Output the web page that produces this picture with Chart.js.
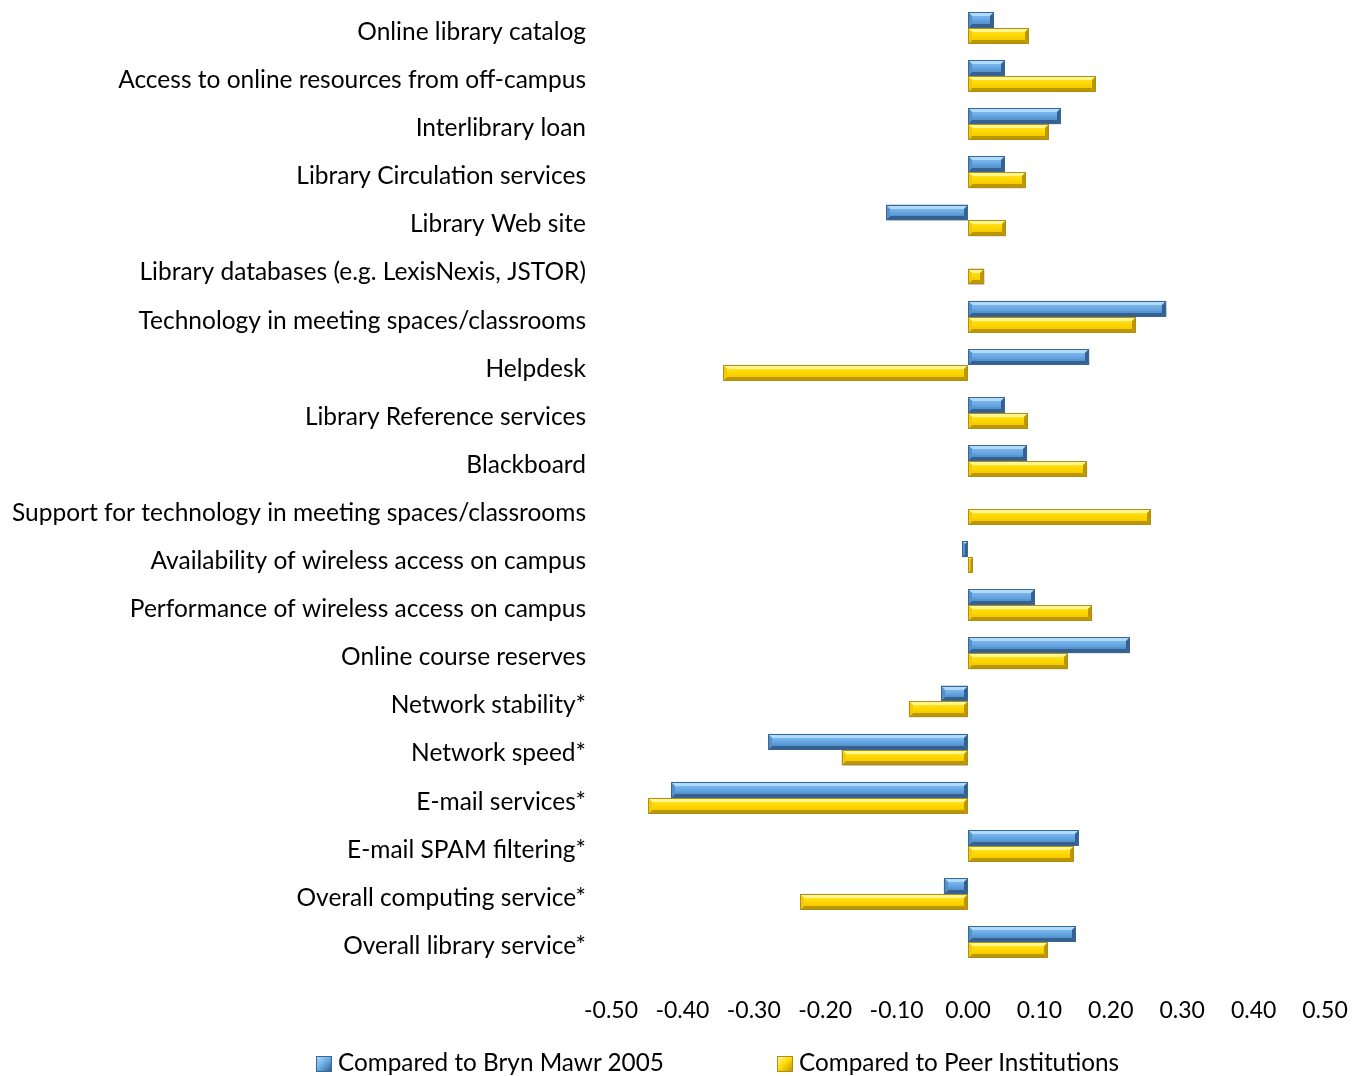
<!DOCTYPE html>
<html>
<head>
<meta charset="utf-8">
<script src="https://cdn.jsdelivr.net/npm/chart.js@4.4.1/dist/chart.umd.min.js"></script>
<style>
  html, body { margin: 0; padding: 0; background: #fff; }
  #wrap { position: relative; width: 1367px; height: 1076px; }
  #legend { position: absolute; left: 0; top: 1048px; width: 1367px; height: 28px; font: 24.3px Lato, sans-serif; color: #000; }
  .leg-item { position: absolute; top: 0; white-space: nowrap; line-height: 28px; }
  .leg-box { display: inline-block; width: 16px; height: 16px; margin-right: 6px; vertical-align: -1px; box-sizing: border-box; }
</style>
</head>
<body>
<div id="wrap">
  <canvas id="chart" width="1367" height="1076"></canvas>
  <div id="legend"></div>
</div>
<script>
// categories, top to bottom
const categories = [
  'Online library catalog',
  'Access to online resources from off-campus',
  'Interlibrary loan',
  'Library Circulation services',
  'Library Web site',
  'Library databases (e.g. LexisNexis, JSTOR)',
  'Technology in meeting spaces/classrooms',
  'Helpdesk',
  'Library Reference services',
  'Blackboard',
  'Support for technology in meeting spaces/classrooms',
  'Availability of wireless access on campus',
  'Performance of wireless access on campus',
  'Online course reserves',
  'Network stability*',
  'Network speed*',
  'E-mail services*',
  'E-mail SPAM filtering*',
  'Overall computing service*',
  'Overall library service*'
];

const seriesNames = ['Compared to Bryn Mawr 2005', 'Compared to Peer Institutions'];

const vsBrynMawr2005 = [0.036, 0.052, 0.130, 0.052, -0.115, null, 0.278, 0.170, 0.052, 0.083,
  null, -0.008, 0.094, 0.227, -0.038, -0.280, -0.416, 0.155, -0.034, 0.151];

const vsPeers = [0.085, 0.179, 0.113, 0.081, 0.053, 0.023, 0.235, -0.343, 0.084, 0.167,
  0.256, 0.007, 0.174, 0.140, -0.083, -0.177, -0.448, 0.148, -0.235, 0.112];

const xTicks = [-0.5, -0.4, -0.3, -0.2, -0.1, 0, 0.1, 0.2, 0.3, 0.4, 0.5];

const FONT = 'Lato, sans-serif';

// bevel shading for each series
const shades = [
  { base: '#4F86C6', top: '#8CC4F3', mid: '#6AAAE6', bot: '#4179B4', hi: '#B0DAFA', lo: '#34618F', side: '#5590CB', edge: '#3A6894' },
  { base: '#F7CD00', top: '#FFEC4C', mid: '#FFD800', bot: '#EDBF00', hi: '#FFF690', lo: '#BC9700', side: '#F3CB00', edge: '#AD8E18' }
];

function poly(ctx, pts, color) {
  ctx.beginPath();
  ctx.moveTo(pts[0][0], pts[0][1]);
  for (let i = 1; i < pts.length; i++) ctx.lineTo(pts[i][0], pts[i][1]);
  ctx.closePath();
  ctx.fillStyle = color;
  ctx.fill();
}

// drop shadow under bars, then Excel-like bevel on top of each bar
const bevelPlugin = {
  id: 'bevel',
  beforeDatasetsDraw(chart) {
    const ctx = chart.ctx;
    ctx.save();
    ctx.shadowColor = 'rgba(0,0,0,0.3)';
    ctx.shadowBlur = 6;
    ctx.shadowOffsetX = 1;
    ctx.shadowOffsetY = 5;
  },
  afterDatasetsDraw(chart) {
    const ctx = chart.ctx;
    ctx.restore();
    chart.data.datasets.forEach(function(ds, di) {
      const sh = shades[di];
      chart.getDatasetMeta(di).data.forEach(function(bar, i) {
        if (ds.data[i] == null) return;
        const p = bar.getProps(['x', 'y', 'base', 'height'], true);
        const l = Math.round(Math.min(p.x, p.base));
        const r = Math.round(Math.max(p.x, p.base));
        const t = Math.round(p.y - p.height / 2);
        const b = Math.round(p.y + p.height / 2);
        const w = r - l, h = b - t;
        if (w < 1) return;
        const e = Math.min(4, w / 2, h / 2);

        const g = ctx.createLinearGradient(0, t, 0, b);
        g.addColorStop(0, sh.top);
        g.addColorStop(0.45, sh.mid);
        g.addColorStop(1, sh.bot);
        ctx.save();
        ctx.fillStyle = g;
        ctx.fillRect(l, t, w, h);
        poly(ctx, [[l, t], [r, t], [r - e, t + e], [l + e, t + e]], sh.hi);
        poly(ctx, [[l, b], [r, b], [r - e, b - e], [l + e, b - e]], sh.lo);
        poly(ctx, [[l, t], [l + e, t + e], [l + e, b - e], [l, b]], sh.side);
        poly(ctx, [[r, t], [r - e, t + e], [r - e, b - e], [r, b]], sh.lo);
        ctx.strokeStyle = sh.edge;
        ctx.lineWidth = 1;
        ctx.strokeRect(l + 0.5, t + 0.5, w - 1, h - 1);
        ctx.restore();
      });
    });
  }
};

const chart = new Chart(document.getElementById('chart'), {
  type: 'bar',
  data: {
    labels: categories,
    datasets: [
      {
        label: seriesNames[0],
        data: vsBrynMawr2005,
        backgroundColor: shades[0].base,
        borderColor: shades[0].edge,
        borderWidth: 1
      },
      {
        label: seriesNames[1],
        data: vsPeers,
        backgroundColor: shades[1].base,
        borderColor: shades[1].edge,
        borderWidth: 1
      }
    ]
  },
  options: {
    indexAxis: 'y',
    responsive: false,
    animation: false,
    categoryPercentage: 0.66,
    barPercentage: 1,
    layout: { padding: { top: 4, right: 42, bottom: 0, left: 0 } },
    plugins: {
      legend: { display: false },
      tooltip: { enabled: false }
    },
    scales: {
      x: {
        min: -0.5,
        max: 0.5,
        afterBuildTicks: function(scale) {
          scale.ticks = xTicks.map(v => ({ value: v }));
        },
        afterFit: function(scale) {
          scale.height = 110;
          scale.paddingLeft = 0;
          scale.paddingRight = 0;
        },
        grid: { display: false, drawTicks: false },
        border: { display: false },
        ticks: {
          padding: 31,
          color: '#000',
          font: { family: FONT, size: 23 },
          maxRotation: 0,
          callback: v => Number(v).toFixed(2)
        }
      },
      y: {
        afterFit: function(scale) {
          scale.width = 611;
          scale.paddingTop = 0;
          scale.paddingBottom = 0;
        },
        grid: { display: false, drawTicks: false },
        border: { display: false },
        ticks: {
          padding: 25,
          labelOffset: 4,
          color: '#000',
          font: { family: FONT, size: 24.5 },
          autoSkip: false
        }
      }
    }
  },
  plugins: [bevelPlugin]
});

// legend below the chart
const legendPos = [316, 777];
const legendEl = document.getElementById('legend');
chart.data.datasets.forEach(function(ds, i) {
  const item = document.createElement('span');
  item.className = 'leg-item';
  item.style.left = legendPos[i] + 'px';
  const box = document.createElement('span');
  box.className = 'leg-box';
  box.style.background = 'linear-gradient(135deg, ' + shades[i].hi + ' 0%, ' + shades[i].mid + ' 50%, ' + shades[i].lo + ' 100%)';
  box.style.border = '1px solid ' + shades[i].edge;
  item.appendChild(box);
  item.appendChild(document.createTextNode(ds.label));
  legendEl.appendChild(item);
});
</script>
</body>
</html>
